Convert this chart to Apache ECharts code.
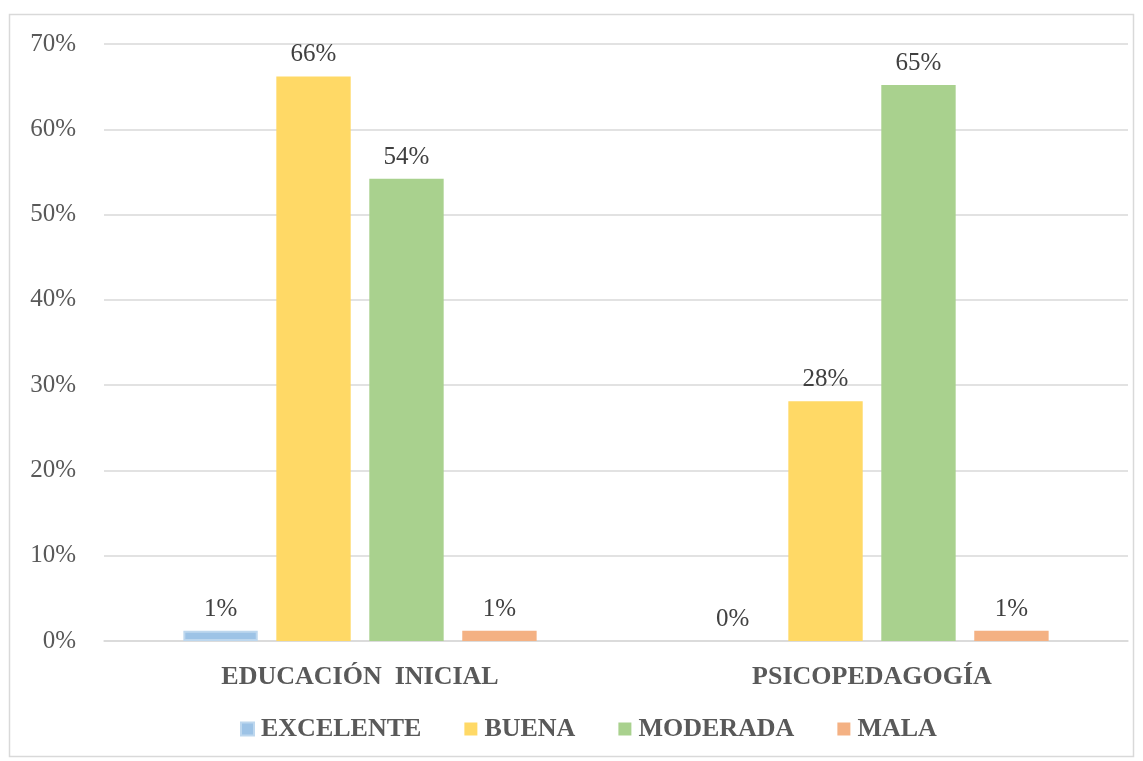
<!DOCTYPE html>
<html><head><meta charset="utf-8">
<script src="https://cdn.jsdelivr.net/npm/echarts@6/dist/echarts.min.js"></script>
<style>html,body{margin:0;padding:0;background:#fff}#c{width:1143px;height:761px}</style>
</head><body><div id="c"></div>
<script>
const categories = ['EDUCACIÓN  INICIAL', 'PSICOPEDAGOGÍA'];
const seriesNames = ['EXCELENTE', 'BUENA', 'MODERADA', 'MALA'];
const excelente = [1.2, 0];
const buena = [66.2, 28.1];
const moderada = [54.2, 65.2];
const mala = [1.2, 1.2];
const yTicks = [0, 10, 20, 30, 40, 50, 60, 70];
const colors = ['#9DC3E6', '#FFD966', '#A9D18E', '#F4B183'];
const values = [excelente, buena, moderada, mala];

const font = 'Liberation Serif';
const chart = echarts.init(document.getElementById('c'));
chart.setOption({
  animation: false,
  graphic: [{type: 'rect', shape: {x: 9.5, y: 14.5, width: 1124, height: 742}, style: {fill: 'none', stroke: '#d9d9d9', lineWidth: 1.5}, silent: true}],
  grid: {left: 104, right: 15, top: 44, bottom: 120},
  legend: {
    bottom: 14, left: 235, itemWidth: 13, itemHeight: 13, itemGap: 43,
    icon: 'rect',
    textStyle: {fontFamily: font, fontSize: 26, fontWeight: 'bold', color: '#595959', padding: [0, 0, 0, 2]},
    data: seriesNames
  },
  xAxis: {
    type: 'category', data: categories,
    axisLine: {lineStyle: {color: '#d9d9d9', width: 1.5}},
    axisTick: {show: false},
    axisLabel: {fontFamily: font, fontSize: 26, fontWeight: 'bold', color: '#595959', margin: 23}
  },
  yAxis: {
    type: 'value', min: yTicks[0], max: yTicks[yTicks.length - 1], interval: 10,
    axisLine: {show: false}, axisTick: {show: false},
    splitLine: {lineStyle: {color: '#d9d9d9', width: 1.5}},
    axisLabel: {fontFamily: font, fontSize: 25, color: '#595959', margin: 28, formatter: v => v + '%'}
  },
  series: seriesNames.map((n, i) => ({
    name: n, type: 'bar',
    data: values[i].map(v => (i === 0 && v === 0) ? {value: v, itemStyle: {borderWidth: 0}} : v),
    barGap: '25%', barCategoryGap: '31%',
    itemStyle: i === 0 ? {color: colors[i], borderColor: '#BDD7EE', borderWidth: 2} : {color: colors[i]},
    label: {show: true, position: 'top', distance: 9, fontFamily: font, fontSize: 25, color: '#404040',
      formatter: p => Math.round(p.value) + '%'}
  }))
});
</script></body></html>
